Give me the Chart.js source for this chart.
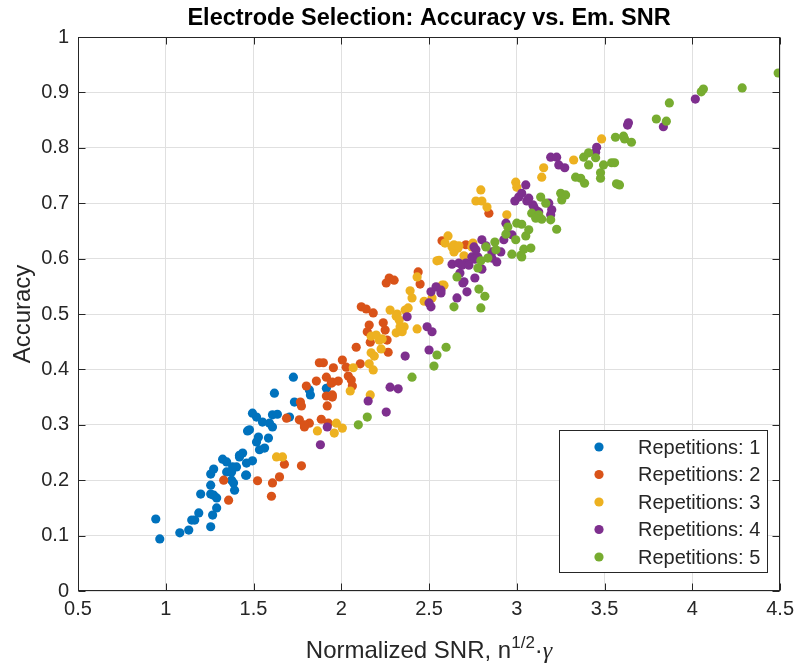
<!DOCTYPE html>
<html>
<head>
<meta charset="utf-8">
<script src="https://cdn.jsdelivr.net/npm/chart.js@4"></script>
<style>html,body{margin:0;padding:0;background:#fff;}canvas{display:block;}</style>
</head>
<body>
<canvas id="c" width="800" height="664"></canvas>
<script>
const seriesLabels = ['Repetitions: 1','Repetitions: 2','Repetitions: 3','Repetitions: 4','Repetitions: 5'];
const seriesColors = ['#0072BD','#D95319','#EDB120','#7E2F8E','#77AC30'];
const xTickValues = [0.5,1,1.5,2,2.5,3,3.5,4,4.5];
const yTickValues = [0,0.1,0.2,0.3,0.4,0.5,0.6,0.7,0.8,0.9,1];
const chartTitle = 'Electrode Selection: Accuracy vs. Em. SNR';
const yAxisLabel = 'Accuracy';

const rep1 = [[0.943,0.130],[0.966,0.094],[1.080,0.105],[1.131,0.110],[1.148,0.128],[1.165,0.128],[1.188,0.141],[1.256,0.116],[1.267,0.137],[1.290,0.150],[1.199,0.175],[1.256,0.175],[1.256,0.191],[1.290,0.168],[1.273,0.173],[1.256,0.211],[1.273,0.220],[1.324,0.238],[1.347,0.233],[1.347,0.215],[1.375,0.200],[1.392,0.182],[1.403,0.224],[1.420,0.242],[1.438,0.249],[1.460,0.231],[1.460,0.209],[1.466,0.289],[1.375,0.215],[1.386,0.195],[1.381,0.224],[1.455,0.209],[1.420,0.245],[1.494,0.235],[1.534,0.255],[1.563,0.258],[1.517,0.269],[1.528,0.278],[1.585,0.276],[1.477,0.291],[1.551,0.305],[1.517,0.314],[1.494,0.321],[1.591,0.303],[1.608,0.296],[1.608,0.318],[1.636,0.319],[1.705,0.314],[1.733,0.341],[1.619,0.357],[1.727,0.386],[1.818,0.363],[1.824,0.354],[1.915,0.366]];
const rep2 = [[1.330,0.200],[1.358,0.164],[1.523,0.199],[1.602,0.171],[1.608,0.195],[1.648,0.206],[1.676,0.229],[1.773,0.226],[1.688,0.312],[1.761,0.309],[1.790,0.296],[1.818,0.303],[1.886,0.310],[1.767,0.341],[1.773,0.334],[1.801,0.370],[1.858,0.379],[1.915,0.386],[1.943,0.375],[1.915,0.352],[1.949,0.354],[1.920,0.334],[1.790,0.300],[1.926,0.303],[1.875,0.412],[1.898,0.412],[1.955,0.403],[1.949,0.377],[1.983,0.379],[2.006,0.417],[2.028,0.404],[2.040,0.388],[2.057,0.381],[2.063,0.370],[2.085,0.440],[2.108,0.410],[2.114,0.513],[2.142,0.509],[2.182,0.502],[2.159,0.480],[2.239,0.484],[2.250,0.471],[2.148,0.468],[2.165,0.449],[2.261,0.453],[2.267,0.431],[2.273,0.565],[2.301,0.561],[2.256,0.556],[2.438,0.576],[2.449,0.554],[2.574,0.632],[2.710,0.625],[2.841,0.682],[1.949,0.350]];
const rep3 = [[1.631,0.242],[1.665,0.242],[1.864,0.289],[1.960,0.285],[1.972,0.303],[2.006,0.294],[2.051,0.361],[2.068,0.403],[2.165,0.354],[2.159,0.410],[2.182,0.399],[2.170,0.430],[2.188,0.424],[2.227,0.437],[2.216,0.453],[2.170,0.460],[2.199,0.462],[2.233,0.455],[2.278,0.507],[2.318,0.500],[2.313,0.496],[2.330,0.489],[2.358,0.477],[2.335,0.477],[2.313,0.466],[2.347,0.468],[2.364,0.507],[2.381,0.511],[2.403,0.529],[2.392,0.542],[2.432,0.567],[2.432,0.473],[2.472,0.523],[2.517,0.529],[2.585,0.552],[2.545,0.596],[2.608,0.641],[2.591,0.628],[2.631,0.621],[2.642,0.612],[2.665,0.619],[2.699,0.605],[2.750,0.628],[2.642,0.625],[2.670,0.623],[2.744,0.621],[2.557,0.597],[2.574,0.552],[2.795,0.724],[2.767,0.704],[2.801,0.704],[2.830,0.693],[2.994,0.738],[3.000,0.729],[2.943,0.679],[3.142,0.747],[3.153,0.764],[3.324,0.778],[3.483,0.816]];
const rep4 = [[1.920,0.296],[1.881,0.264],[2.153,0.343],[2.256,0.323],[2.278,0.368],[2.324,0.365],[2.364,0.424],[2.375,0.495],[2.500,0.435],[2.489,0.477],[2.517,0.468],[2.500,0.520],[2.511,0.513],[2.511,0.540],[2.540,0.549],[2.568,0.538],[2.631,0.590],[2.670,0.592],[2.710,0.592],[2.744,0.603],[2.756,0.621],[2.699,0.558],[2.716,0.540],[2.761,0.565],[2.659,0.529],[2.688,0.588],[2.727,0.588],[2.676,0.574],[2.693,0.556],[2.801,0.581],[2.568,0.543],[2.761,0.599],[2.778,0.603],[2.767,0.616],[2.801,0.634],[2.824,0.623],[2.858,0.612],[2.858,0.601],[2.886,0.594],[2.909,0.612],[2.926,0.634],[2.938,0.664],[2.989,0.704],[3.011,0.711],[3.028,0.718],[3.051,0.733],[3.057,0.704],[3.091,0.697],[3.114,0.686],[3.068,0.709],[3.097,0.693],[3.125,0.684],[3.182,0.700],[3.199,0.688],[3.193,0.679],[2.972,0.643],[3.193,0.783],[3.227,0.783],[3.239,0.769],[3.273,0.764],[3.455,0.801],[3.449,0.792],[3.636,0.845],[3.631,0.841],[3.835,0.838],[4.017,0.888]];
const rep5 = [[2.097,0.300],[2.148,0.314],[2.403,0.386],[2.528,0.406],[2.545,0.426],[2.597,0.440],[2.642,0.513],[2.659,0.567],[2.795,0.511],[2.818,0.532],[2.784,0.545],[2.778,0.583],[2.795,0.596],[2.835,0.601],[2.824,0.621],[2.881,0.616],[2.875,0.630],[2.972,0.608],[3.023,0.606],[2.994,0.634],[3.040,0.617],[3.080,0.619],[2.938,0.644],[2.949,0.657],[3.000,0.664],[3.028,0.662],[3.051,0.641],[3.068,0.652],[3.085,0.682],[3.125,0.679],[3.142,0.671],[3.136,0.711],[3.165,0.700],[3.108,0.673],[3.193,0.670],[3.227,0.653],[3.250,0.718],[3.278,0.715],[3.256,0.706],[3.335,0.747],[3.364,0.745],[3.386,0.736],[3.381,0.783],[3.409,0.791],[3.409,0.769],[3.449,0.782],[3.494,0.769],[3.540,0.773],[3.557,0.773],[3.477,0.755],[3.477,0.745],[3.568,0.735],[3.585,0.733],[3.562,0.819],[3.608,0.821],[3.614,0.816],[3.653,0.810],[3.795,0.852],[3.852,0.848],[3.869,0.881],[4.051,0.901],[4.063,0.906],[4.284,0.908],[4.489,0.935],[3.028,0.603]];
const allSeries = [rep1, rep2, rep3, rep4, rep5];

const FONT = '"Liberation Sans", Arial, Helvetica, sans-serif';
const INK = '#262626';

const datasets = allSeries.map((pts, i) => ({
  label: seriesLabels[i],
  data: pts.map(p => ({x: p[0], y: p[1]})),
  backgroundColor: seriesColors[i],
  borderColor: seriesColors[i],
  borderWidth: 0,
  pointRadius: 4.6,
  pointHoverRadius: 4.6,
  order: allSeries.length - i
}));

const decor = {
  id: 'decor',
  afterDraw(chart) {
    const ctx = chart.ctx;
    const a = chart.chartArea;
    const xs = chart.scales.x, ys = chart.scales.y;
    const L = Math.round(a.left) + 0.5, R = Math.round(a.right) - 0.5;
    const T = Math.round(a.top) + 0.5, B = Math.round(a.bottom) - 0.5;
    ctx.save();
    ctx.strokeStyle = INK;
    ctx.lineWidth = 1;
    ctx.strokeRect(L, T, R - L, B - T);
    const tl = 7;
    ctx.beginPath();
    xTickValues.forEach(v => {
      const px = Math.round(xs.getPixelForValue(v)) + 0.5;
      ctx.moveTo(px, B); ctx.lineTo(px, B - tl);
      ctx.moveTo(px, T); ctx.lineTo(px, T + tl);
    });
    yTickValues.forEach(v => {
      const py = Math.round(ys.getPixelForValue(v)) + 0.5;
      ctx.moveTo(L, py); ctx.lineTo(L + tl, py);
      ctx.moveTo(R, py); ctx.lineTo(R - tl, py);
    });
    ctx.stroke();

    const cx = (a.left + a.right) / 2;
    // title
    ctx.fillStyle = '#000';
    ctx.font = 'bold 23.5px ' + FONT;
    ctx.textAlign = 'center';
    ctx.textBaseline = 'alphabetic';
    ctx.fillText(chartTitle, cx, 25);

    // y label
    ctx.fillStyle = INK;
    ctx.save();
    ctx.translate(30, (a.top + a.bottom) / 2);
    ctx.rotate(-Math.PI / 2);
    ctx.font = '24px ' + FONT;
    ctx.textAlign = 'center';
    ctx.fillText(yAxisLabel, 0, 0);
    ctx.restore();

    // x label with superscript
    const parts = [
      {t: 'Normalized SNR, n', f: '24px ' + FONT, dy: 0},
      {t: '1/2', f: '17px ' + FONT, dy: -10},
      {t: '\u00B7', f: '24px ' + FONT, dy: 0},
      {t: '\u03B3', f: 'italic 24px "Liberation Serif", "DejaVu Serif", serif', dy: 0}
    ];
    let total = 0;
    parts.forEach(p => { ctx.font = p.f; p.w = ctx.measureText(p.t).width; total += p.w; });
    let x0 = cx - total / 2;
    ctx.textAlign = 'left';
    parts.forEach(p => { ctx.font = p.f; ctx.fillText(p.t, x0, 658 + p.dy); x0 += p.w; });

    // legend
    const lx = 559, ly = 430, lw = 208, lh = 142;
    ctx.fillStyle = '#fff';
    ctx.fillRect(lx, ly, lw, lh);
    ctx.strokeStyle = INK;
    ctx.strokeRect(lx + 0.5, ly + 0.5, lw, lh);
    ctx.font = '20px ' + FONT;
    ctx.textBaseline = 'middle';
    chart.data.datasets.forEach((d, i) => {
      const yy = 447 + i * 27.5;
      ctx.beginPath();
      ctx.fillStyle = d.backgroundColor;
      ctx.arc(599, yy, 4.6, 0, Math.PI * 2);
      ctx.fill();
      ctx.fillStyle = INK;
      ctx.fillText(d.label, 638, yy + 1);
    });
    ctx.restore();
  }
};

new Chart(document.getElementById('c'), {
  type: 'scatter',
  data: { datasets },
  options: {
    responsive: false,
    animation: false,
    devicePixelRatio: 1,
    layout: { padding: { top: 37, right: 18, left: 0, bottom: 0 } },
    plugins: { legend: { display: false }, title: { display: false }, tooltip: { enabled: false } },
    scales: {
      x: {
        type: 'linear', min: 0.5, max: 4.5,
        afterBuildTicks: s => { s.ticks = xTickValues.map(v => ({value: v})); },
        ticks: { font: { size: 20, family: FONT }, color: INK, padding: 6, maxRotation: 0,
                 callback: v => String(+v.toFixed(1)) },
        grid: { color: '#e0e0e0', drawTicks: false },
        border: { display: false },
        afterFit: s => { s.height = 73; }
      },
      y: {
        type: 'linear', min: 0, max: 1,
        afterBuildTicks: s => { s.ticks = yTickValues.map(v => ({value: v})); },
        ticks: { font: { size: 20, family: FONT }, color: INK, padding: 9,
                 callback: v => String(+v.toFixed(1)) },
        grid: { color: '#e0e0e0', drawTicks: false },
        border: { display: false },
        afterFit: s => { s.width = 78; }
      }
    }
  },
  plugins: [decor]
});
</script>
</body>
</html>
